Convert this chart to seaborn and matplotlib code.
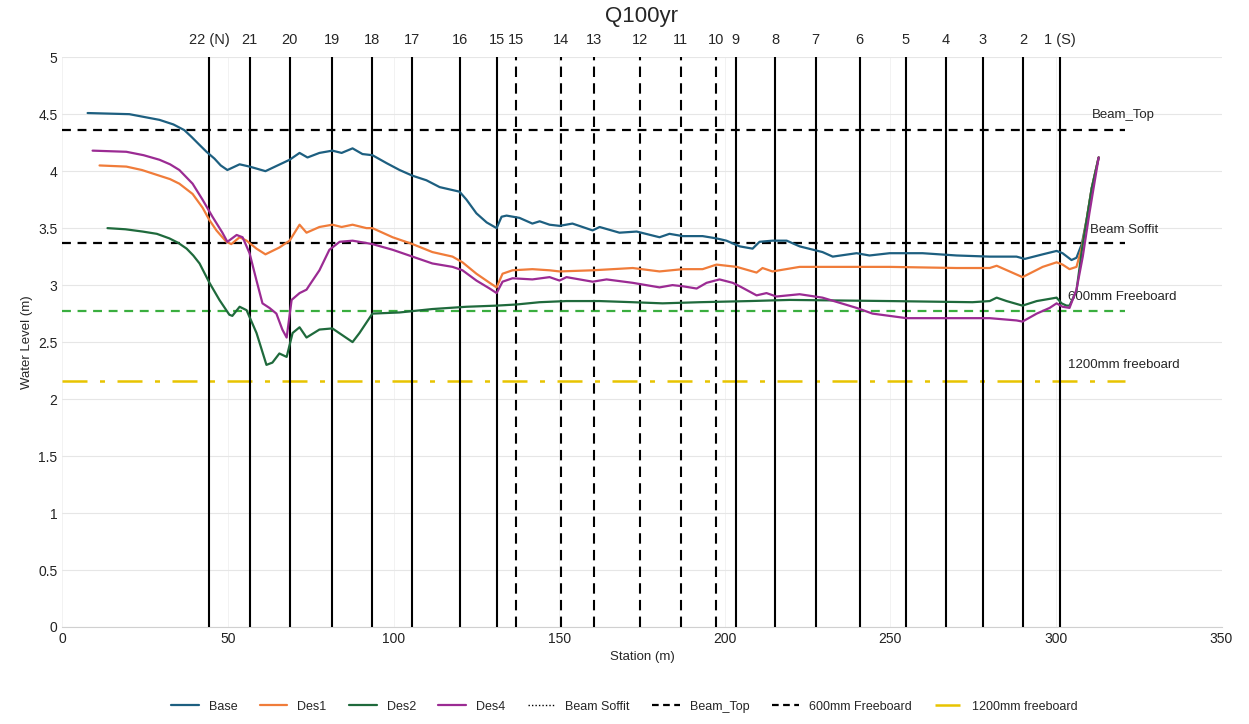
import pandas as pd
import numpy as np
import matplotlib
matplotlib.use("Agg")
import matplotlib.pyplot as plt
import seaborn as sns
from matplotlib.lines import Line2D
from matplotlib.ticker import FuncFormatter
import matplotlib.transforms as mtransforms

# water level profiles (station m, level m)
base_st = [7.6, 20.2, 29.3, 33.5, 36.8, 39.0, 41.4, 43.5, 45.9, 47.8, 49.8, 53.5, 56.5, 61.3, 68.6, 71.6,
           74.0, 77.6, 81.5, 84.3, 87.6, 90.6, 93.6, 97.9, 101.8, 105.7, 109.9, 113.9, 119.9, 122.0,
           125.0, 128.1, 131.1, 132.6, 134.1, 138.0, 141.9, 144.1, 147.1, 150.1, 154.0, 160.1, 162.2,
           168.2, 173.4, 180.3, 183.3, 187.3, 193.3, 197.5, 200.5, 204.5, 208.4, 210.5, 214.4, 218.7,
           222.6, 229.5, 232.6, 239.8, 243.7, 249.8, 259.7, 270.0, 280.0, 288.1, 290.6, 296.0, 300.2,
           302.0, 304.7, 306.2, 307.8, 309.3, 310.8, 312.9]
base_wl = [4.51, 4.50, 4.45, 4.41, 4.36, 4.30, 4.23, 4.17, 4.11, 4.05, 4.01, 4.06, 4.04, 4.00, 4.10, 4.16,
           4.12, 4.16, 4.18, 4.16, 4.20, 4.15, 4.14, 4.07, 4.01, 3.96, 3.92, 3.86, 3.82, 3.75,
           3.63, 3.55, 3.50, 3.60, 3.61, 3.59, 3.54, 3.56, 3.53, 3.52, 3.54, 3.48, 3.51,
           3.46, 3.47, 3.42, 3.45, 3.43, 3.43, 3.41, 3.39, 3.34, 3.32, 3.38, 3.39, 3.39,
           3.34, 3.29, 3.25, 3.28, 3.26, 3.28, 3.28, 3.26, 3.25, 3.25, 3.23, 3.27, 3.30,
           3.28, 3.22, 3.24, 3.36, 3.58, 3.85, 4.12]

des1_st = [11.2, 19.3, 24.0, 29.3, 32.5, 35.3, 39.3, 42.3, 44.4, 46.5, 49.5, 51.0, 53.5, 55.6, 58.6, 61.3,
           65.5, 68.6, 71.6, 73.7, 77.6, 81.5, 84.3, 87.6, 91.8, 93.6, 99.7, 105.7, 111.7, 117.8,
           120.8, 125.0, 129.0, 131.1, 132.9, 135.9, 141.9, 147.1, 150.1, 160.1, 172.2, 180.3, 187.3,
           193.3, 197.5, 203.6, 209.6, 211.4, 214.4, 222.6, 232.6, 249.8, 270.0, 280.0, 282.1, 289.9,
           296.0, 300.2, 302.0, 304.1, 306.2, 307.8, 309.3, 310.8, 312.9]
des1_wl = [4.05, 4.04, 4.01, 3.96, 3.93, 3.89, 3.80, 3.68, 3.57, 3.48, 3.38, 3.36, 3.42, 3.39, 3.32, 3.27,
           3.33, 3.39, 3.53, 3.46, 3.51, 3.53, 3.51, 3.53, 3.50, 3.50, 3.42, 3.36, 3.29, 3.25,
           3.20, 3.10, 3.02, 2.98, 3.10, 3.13, 3.14, 3.13, 3.12, 3.13, 3.15, 3.12, 3.14,
           3.14, 3.18, 3.16, 3.11, 3.15, 3.12, 3.16, 3.16, 3.16, 3.15, 3.15, 3.17, 3.07,
           3.16, 3.20, 3.18, 3.14, 3.16, 3.33, 3.58, 3.85, 4.12]

des2_st = [13.6, 19.0, 24.2, 28.5, 32.3, 35.0, 37.5, 39.5, 41.4, 44.4, 47.4, 50.4, 51.3, 53.5, 55.6, 58.6,
           61.6, 63.4, 65.5, 67.7, 69.5, 71.6, 73.7, 77.6, 81.5, 87.6, 89.7, 93.6, 101.8, 111.7,
           122.0, 131.1, 137.1, 144.1, 152.2, 162.2, 172.2, 181.2, 192.4, 207.5, 219.6, 249.8, 274.8,
           280.0, 282.1, 285.1, 289.9, 294.2, 300.2, 301.7, 303.2, 304.1, 306.2, 307.8, 309.3, 310.8,
           312.9]
des2_wl = [3.50, 3.49, 3.47, 3.45, 3.41, 3.37, 3.32, 3.26, 3.19, 3.02, 2.87, 2.74, 2.73, 2.81, 2.78, 2.58,
           2.30, 2.32, 2.40, 2.37, 2.58, 2.63, 2.54, 2.61, 2.62, 2.50, 2.58, 2.75, 2.76, 2.79,
           2.81, 2.82, 2.83, 2.85, 2.86, 2.86, 2.85, 2.84, 2.85, 2.86, 2.87, 2.86, 2.85,
           2.86, 2.89, 2.86, 2.82, 2.86, 2.89, 2.84, 2.82, 2.82, 2.95, 3.30, 3.58, 3.85,
           4.12]

des4_st = [9.1, 19.3, 24.5, 29.3, 32.5, 35.3, 39.3, 42.3, 45.3, 48.3, 49.8, 52.6, 54.4, 56.5, 58.6, 60.4,
           62.5, 64.6, 66.4, 67.7, 69.2, 71.6, 73.7, 74.6, 77.6, 80.6, 83.7, 87.6, 93.6, 99.7,
           105.7, 111.7, 117.8, 120.8, 125.0, 129.0, 131.1, 132.9, 135.9, 141.9, 147.1, 150.1, 152.2,
           160.1, 164.3, 172.2, 180.3, 184.2, 187.3, 191.5, 194.5, 198.4, 202.4, 204.5, 209.6, 212.6,
           215.6, 222.6, 229.5, 239.8, 244.6, 254.9, 270.0, 280.0, 288.1, 289.9, 294.2, 298.1, 300.2,
           302.0, 304.1, 306.2, 308.1, 310.1, 312.9]
des4_wl = [4.18, 4.17, 4.14, 4.10, 4.06, 4.01, 3.89, 3.75, 3.60, 3.46, 3.38, 3.44, 3.42, 3.28, 3.04, 2.84,
           2.80, 2.75, 2.61, 2.54, 2.87, 2.93, 2.96, 3.00, 3.13, 3.31, 3.38, 3.39, 3.36, 3.31,
           3.25, 3.19, 3.16, 3.13, 3.04, 2.97, 2.93, 3.03, 3.06, 3.05, 3.07, 3.04, 3.07,
           3.03, 3.05, 3.02, 2.98, 3.00, 2.99, 2.97, 3.02, 3.05, 3.02, 2.99, 2.91, 2.93,
           2.90, 2.92, 2.89, 2.80, 2.75, 2.71, 2.71, 2.71, 2.69, 2.68, 2.75, 2.80, 2.84,
           2.81, 2.80, 2.96, 3.25, 3.63, 4.12]

# bridge / cross section markers
xs_names = ["22 (N)", "21", "20", "19", "18", "17", "16", "15", "15", "14", "13", "12", "11", "10",
            "9", "8", "7", "6", "5", "4", "3", "2", "1 (S)"]
xs_station = [44.4, 56.5, 68.6, 81.5, 93.6, 105.7, 119.9, 131.1, 137.1, 150.4, 160.4, 174.3, 186.7,
              197.3, 203.3, 215.3, 227.4, 240.7, 254.6, 266.7, 277.9, 290.0, 301.1]
xs_dashed = [False] * 8 + [True] * 6 + [False] * 9

beam_soffit = 3.37
beam_top = 4.36
fb600 = 2.77
fb1200 = 2.16

df = pd.concat([
    pd.DataFrame({"Station": base_st, "Level": base_wl, "Run": "Base"}),
    pd.DataFrame({"Station": des1_st, "Level": des1_wl, "Run": "Des1"}),
    pd.DataFrame({"Station": des2_st, "Level": des2_wl, "Run": "Des2"}),
    pd.DataFrame({"Station": des4_st, "Level": des4_wl, "Run": "Des4"}),
])
colors = {"Base": "#1d5f80", "Des1": "#f07c3a", "Des2": "#1f6a3c", "Des4": "#9b2b93"}

sns.set_style("white")
plt.rcParams['font.family'] = ['Liberation Sans', 'DejaVu Sans']

fig, ax = plt.subplots(figsize=(12.49, 7.24), dpi=100)
fig.subplots_adjust(left=0.050, right=0.978, top=0.921, bottom=0.134)

ax.set_xlim(0, 350)
ax.set_ylim(0, 5)
ax.set_xticks(np.arange(0, 351, 50))
ax.set_yticks(np.arange(0, 5.01, 0.5))
ax.yaxis.set_major_formatter(FuncFormatter(lambda v, p: f"{v:g}"))
ax.grid(axis="y", color="#e6e6e6", lw=0.8)
ax.grid(axis="x", color="#f0f0f0", lw=0.6)
for s in ["top", "right", "left"]:
    ax.spines[s].set_visible(False)
ax.spines["bottom"].set_color("#d0d0d0")
ax.tick_params(length=0, labelsize=10, colors="#222222")

# horizontal reference levels
ax.hlines(beam_top, 0, 321, colors="black", linestyles=(0, (4, 3)), lw=1.6)
ax.hlines(beam_soffit, 0, 321, colors="black", linestyles=(0, (4, 3)), lw=1.6)
ax.hlines(fb600, 0, 321, colors="#3aae3f", linestyles=(0, (4, 3)), lw=1.6)
ax.hlines(fb1200, 0, 321, colors="#e8c400", linestyles=(0, (10, 5, 2, 5)), lw=1.8)

# cross section lines and labels
trans = mtransforms.blended_transform_factory(ax.transData, ax.transAxes)
for name, st, dsh in zip(xs_names, xs_station, xs_dashed):
    ax.axvline(st, color="black", lw=1.5, ls=(0, (5, 3)) if dsh else "-", zorder=3)
    ax.text(st, 1.018, name, transform=trans, ha="center", va="bottom", fontsize=10.5)

sns.lineplot(data=df, x="Station", y="Level", hue="Run", palette=colors, sort=False,
             estimator=None, lw=1.6, ax=ax, legend=False, zorder=4)

ax.text(310.8, 4.47, "Beam_Top", fontsize=9.5)
ax.text(310.2, 3.46, "Beam Soffit", fontsize=9.5)
ax.text(303.5, 2.87, "600mm Freeboard", fontsize=9.5)
ax.text(303.5, 2.27, "1200mm freeboard", fontsize=9.5)

ax.set_title("Q100yr", fontsize=16, pad=25)
ax.set_xlabel("Station (m)", fontsize=9.5)
ax.set_ylabel("Water Level (m)", fontsize=9.5)

handles = [
    Line2D([], [], color=colors["Base"], lw=1.6),
    Line2D([], [], color=colors["Des1"], lw=1.6),
    Line2D([], [], color=colors["Des2"], lw=1.6),
    Line2D([], [], color=colors["Des4"], lw=1.6),
    Line2D([], [], color="black", lw=1, ls=(0, (1, 1.5))),
    Line2D([], [], color="black", lw=1.6, ls=(0, (3, 2))),
    Line2D([], [], color="black", lw=1.6, ls=(0, (3, 2))),
    Line2D([], [], color="#e8c400", lw=1.8, ls=(0, (10, 5, 2, 5))),
]
labels = ["Base", "Des1", "Des2", "Des4", "Beam Soffit", "Beam_Top", "600mm Freeboard", "1200mm freeboard"]
fig.legend(handles, labels, loc="lower center", ncol=8, frameon=False, fontsize=9,
           bbox_to_anchor=(0.5, 0.0), handlelength=2.2, columnspacing=1.8)

plt.savefig("out.png", dpi=100)
